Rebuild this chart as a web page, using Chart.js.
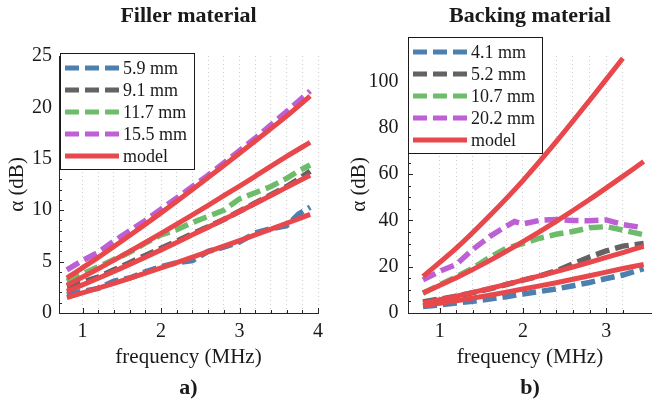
<!DOCTYPE html>
<html>
<head>
<meta charset="utf-8">
<script src="https://cdn.jsdelivr.net/npm/chart.js@4.4.1/dist/chart.umd.min.js"></script>
<style>
  body { margin: 0; background: #fff; }
  .panel { position: absolute; top: 0; width: 326px; height: 402px; }
</style>
</head>
<body>
<div class="panel" style="left:0"><canvas id="filler" width="326" height="402"></canvas></div>
<div class="panel" style="left:326px"><canvas id="backing" width="326" height="402"></canvas></div>
<script>
// ---- a) filler material ----
const freqFiller = [0.8, 1.0, 1.2, 1.4, 1.6, 1.8, 2.0, 2.2, 2.4, 2.6, 2.8, 3.0, 3.2, 3.4, 3.6, 3.75, 3.9];
const filler59 = [1.8, 2.1, 2.4, 3.1, 3.4, 4.0, 4.5, 4.9, 5.1, 6.0, 6.4, 6.9, 7.8, 8.2, 8.5, 9.6, 10.3];
const filler91 = [2.6, 3.0, 3.5, 4.2, 4.9, 5.6, 6.3, 7.0, 7.7, 8.4, 9.1, 9.9, 10.7, 11.5, 12.3, 13.0, 13.8];
const filler117 = [3.1, 3.8, 4.5, 5.2, 5.9, 6.8, 7.6, 8.1, 8.8, 9.4, 10.0, 11.1, 11.7, 12.3, 13.1, 13.8, 14.4];
const filler155 = [4.2, 5.1, 5.9, 7.0, 8.0, 9.0, 10.1, 11.2, 12.3, 13.4, 14.6, 15.8, 17.0, 18.3, 19.6, 20.6, 21.6];

const freqFillerModel = [0.8, 1.2, 1.6, 2.0, 2.4, 2.8, 3.2, 3.6, 3.9];
const fillerModel59 = [1.5, 2.41, 3.38, 4.39, 5.43, 6.50, 7.60, 8.73, 9.6];
const fillerModel91 = [2.1, 3.38, 4.73, 6.14, 7.60, 9.10, 10.65, 12.22, 13.4];
const fillerModel117 = [2.7, 4.30, 5.99, 7.74, 9.55, 11.41, 13.30, 15.23, 16.6];
const fillerModel155 = [3.4, 5.41, 7.54, 9.74, 12.02, 14.35, 16.73, 19.15, 21.1];

// ---- b) backing material ----
const freqBacking = [0.8, 1.0, 1.2, 1.4, 1.6, 1.8, 1.9, 2.0, 2.2, 2.4, 2.6, 2.8, 3.0, 3.2, 3.45];
const backing41 = [2.8, 3.5, 4.3, 5.1, 6.0, 7.0, 7.6, 8.2, 9.3, 10.4, 11.8, 13.2, 14.9, 16.4, 19.2];
const backing52 = [4.8, 6.0, 7.2, 8.8, 10.4, 12.3, 13.2, 14.2, 16.0, 18.2, 21.2, 24.2, 26.8, 28.9, 30.0];
const backing107 = [8.5, 12.2, 15.6, 19.4, 24.0, 28.0, 29.0, 30.0, 32.3, 34.0, 35.2, 36.8, 37.3, 35.8, 33.8];
const backing202 = [14.3, 18.0, 21.0, 27.5, 33.0, 37.5, 39.5, 38.5, 40.0, 40.4, 40.0, 39.8, 40.2, 38.2, 36.8];

const freqBackingModel = [0.8, 1.2, 1.6, 2.0, 2.4, 2.8, 3.2, 3.45];
const backingModel41 = [3.2, 5.3, 7.7, 10.4, 13.1, 16.1, 19.2, 21.0];
const backingModel52 = [4.3, 7.3, 10.6, 14.2, 17.9, 21.9, 26.1, 28.8];
const backingModel107 = [8.7, 15.2, 22.6, 30.8, 39.6, 49.0, 59.0, 65.4];
const backingModel202 = [15.8, 28.0, 42.0, 57.2, 74.0, 91.8, 110.0, null];

const fillerLabels = ['5.9 mm', '9.1 mm', '11.7 mm', '15.5 mm'];
const backingLabels = ['4.1 mm', '5.2 mm', '10.7 mm', '20.2 mm'];

const colors = ['#4c80b1', '#636363', '#6cbc6a', '#bd5fd5'];
const modelColor = '#e8484b';
const serif = "'Liberation Serif', 'Times New Roman', serif";
const ink = '#1a1a1a';

Chart.defaults.font.family = serif;
Chart.defaults.color = ink;

function pairs(xs, ys) {
    return xs.map((x, i) => ({ x: x, y: ys[i] }));
}

function measured(label, xs, ys, color) {
    return {
        label: label, data: pairs(xs, ys), borderColor: color, backgroundColor: color,
        borderWidth: 5.5, borderDash: [14, 6], pointRadius: 0, tension: 0, order: 2
    };
}

function model(xs, ys) {
    return {
        label: 'model', data: pairs(xs, ys), borderColor: modelColor, backgroundColor: modelColor,
        borderWidth: 5, pointRadius: 0, tension: 0.3, order: 1
    };
}

// legend box, inward tick marks
const figureExtras = {
    id: 'figureExtras',
    afterDatasetsDraw(chart, args, opts) {
        const ctx = chart.ctx;
        const xs = chart.scales.x, ys = chart.scales.y;
        ctx.save();
        ctx.strokeStyle = '#262626';
        ctx.lineWidth = 1;
        ctx.beginPath();
        xs.ticks.forEach(t => {
            const px = Math.round(xs.getPixelForValue(t.value)) + 0.5;
            const len = Math.abs(t.value - Math.round(t.value)) < 1e-6 ? 5 : 3;
            ctx.moveTo(px, ys.bottom);
            ctx.lineTo(px, ys.bottom - len);
        });
        for (let v = 0; v <= ys.max + 1e-6; v += opts.yMinor) {
            const py = Math.round(ys.getPixelForValue(v)) + 0.5;
            const len = Math.abs(v / opts.yMajor - Math.round(v / opts.yMajor)) < 1e-6 ? 5 : 3;
            ctx.moveTo(xs.left, py);
            ctx.lineTo(xs.left + len, py);
        }
        ctx.stroke();
        ctx.restore();
    },
    afterDraw(chart, args, opts) {
        const ctx = chart.ctx;
        const left = opts.legendX, top = opts.legendY;
        const seen = [];
        const items = chart.data.datasets.filter(d => {
            if (seen.includes(d.label)) return false;
            seen.push(d.label);
            return true;
        });
        ctx.save();
        ctx.fillStyle = '#fff';
        ctx.fillRect(left, top, 134, 116);
        ctx.strokeStyle = '#1a1a1a';
        ctx.lineWidth = 1;
        ctx.strokeRect(left + 0.5, top + 0.5, 134, 116);
        ctx.font = '18px ' + serif;
        ctx.textBaseline = 'middle';
        ctx.textAlign = 'left';
        items.forEach((d, i) => {
            const y = top + 15 + i * 22;
            ctx.beginPath();
            ctx.strokeStyle = d.borderColor;
            ctx.lineWidth = 5;
            ctx.setLineDash(d.borderDash || []);
            ctx.moveTo(left + 5, y);
            ctx.lineTo(left + 59, y);
            ctx.stroke();
            ctx.setLineDash([]);
            ctx.fillStyle = ink;
            ctx.fillText(d.label, left + 63, y + 1);
        });
        ctx.restore();
    }
};

function makeChart(id, cfg) {
    const datasets = [];
    cfg.labels.forEach((lab, i) => datasets.push(measured(lab, cfg.freq, cfg.series[i], colors[i])));
    cfg.models.forEach(m => datasets.push(model(cfg.freqModel, m)));
    return new Chart(document.getElementById(id), {
        type: 'line',
        data: { datasets: datasets },
        options: {
            responsive: false,
            animation: false,
            layout: { padding: cfg.padding },
            plugins: {
                legend: { display: false },
                tooltip: { enabled: false },
                title: {
                    display: true, text: cfg.title, fullSize: false, color: ink,
                    font: { size: 22, weight: 'bold' }, padding: { top: 2.8, bottom: 26.8 }
                },
                subtitle: {
                    display: true, text: cfg.tag, position: 'bottom', fullSize: false, color: ink,
                    font: { size: 22, weight: 'bold' }, padding: { top: 3.2, bottom: 0.8 }
                },
                figureExtras: { legendX: cfg.legendX, legendY: cfg.legendY, yMinor: cfg.yMinor, yMajor: cfg.yMajor }
            },
            scales: {
                x: {
                    type: 'linear', min: cfg.xMin, max: cfg.xMax,
                    border: { color: '#262626', width: 1, dash: [1, 3] },
                    grid: { color: '#cdcdcd', lineWidth: 1, drawTicks: false, tickLength: 0 },
                    ticks: {
                        stepSize: 0.2, autoSkip: false, maxRotation: 0, padding: 0,
                        font: { size: 20, lineHeight: 1.9 }, color: ink,
                        callback: v => Math.abs(v - Math.round(v)) < 1e-6 ? String(Math.round(v)) : ''
                    },
                    title: { display: true, text: 'frequency (MHz)', font: { size: 21 }, color: ink, padding: { top: -6.6, bottom: 2 } }
                },
                y: {
                    min: 0, max: cfg.yMax,
                    border: { color: '#262626', width: 1 },
                    grid: { display: false, drawTicks: false, tickLength: 0 },
                    ticks: {
                        stepSize: cfg.yMajor, padding: cfg.yTickGap, font: { size: 20 }, color: ink,
                        callback: v => Math.abs(v / cfg.yMajor - Math.round(v / cfg.yMajor)) < 1e-6 ? String(v) : ''
                    },
                    title: { display: true, text: 'α (dB)', font: { size: 21 }, color: ink, padding: { top: 0, bottom: cfg.yTitleGap } }
                }
            }
        },
        plugins: [figureExtras]
    });
}

makeChart('filler', {
    title: 'Filler material', tag: 'a)',
    freq: freqFiller, series: [filler59, filler91, filler117, filler155], labels: fillerLabels,
    freqModel: freqFillerModel, models: [fillerModel59, fillerModel91, fillerModel117, fillerModel155],
    xMin: 0.7, xMax: 4, yMax: 25, yMajor: 5, yMinor: 1,
    padding: { left: 4.4, right: 8, top: 0, bottom: 0 }, yTitleGap: -4.6, yTickGap: 7,
    legendX: 60, legendY: 53
});

makeChart('backing', {
    title: 'Backing material', tag: 'b)',
    freq: freqBacking, series: [backing41, backing52, backing107, backing202], labels: backingLabels,
    freqModel: freqBackingModel, models: [backingModel41, backingModel52, backingModel107, backingModel202],
    xMin: 0.62, xMax: 3.55, yMax: 111, yMajor: 20, yMinor: 5,
    padding: { left: 20.4, right: 0, top: 0, bottom: 0 }, yTitleGap: -12.6, yTickGap: 9.5,
    legendX: 82, legendY: 37
});
</script>
</body>
</html>
